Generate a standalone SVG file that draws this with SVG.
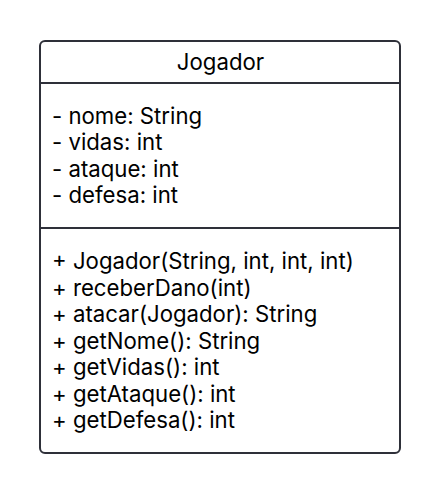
<svg xmlns="http://www.w3.org/2000/svg" width="440" height="494" viewBox="0 0 440 494">
<style>
.box{fill:#ffffff;stroke:#2e3039;stroke-width:2}
.div{stroke:#2e3039;stroke-width:2}
text{font-family:Inter,"Noto Sans",sans-serif;font-size:22.2px;fill:#000000}
</style>
<rect width="440" height="494" fill="#ffffff"/>
<g id="Jogador">
<rect class="box" x="40" y="41" width="360" height="412" rx="5"/>
<line class="div" x1="40" y1="83" x2="400" y2="83"/>
<line class="div" x1="40" y1="228" x2="400" y2="228"/>
<text x="220.5" y="69.5" text-anchor="middle">Jogador</text>
<text x="52" y="123.5">- nome: String</text>
<text x="52" y="150">- vidas: int</text>
<text x="52" y="176.5">- ataque: int</text>
<text x="52" y="203">- defesa: int</text>
<text x="52" y="269">+ Jogador(String, int, int, int)</text>
<text x="52" y="295.5">+ receberDano(int)</text>
<text x="52" y="322">+ atacar(Jogador): String</text>
<text x="52" y="348.5">+ getNome(): String</text>
<text x="52" y="375">+ getVidas(): int</text>
<text x="52" y="401.5">+ getAtaque(): int</text>
<text x="52" y="428">+ getDefesa(): int</text>
</g>
<g id="connectors"></g>
</svg>
